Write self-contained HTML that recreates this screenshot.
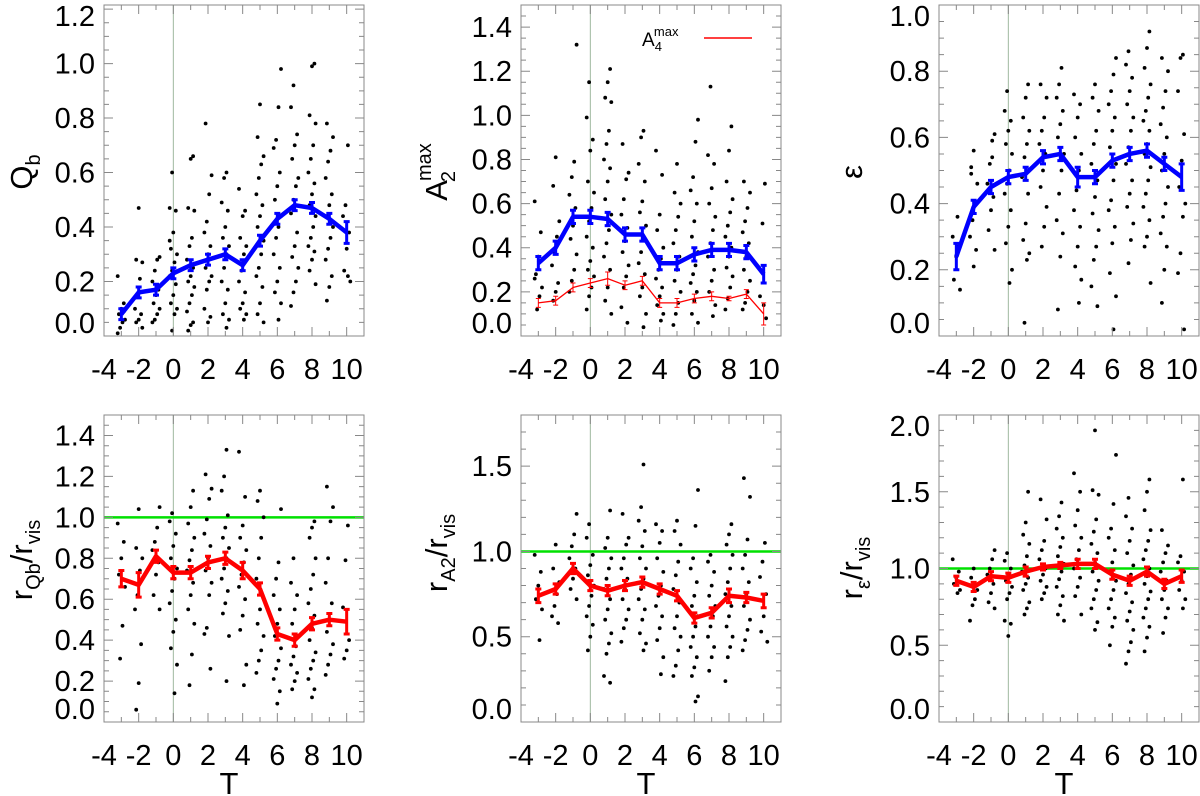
<!DOCTYPE html>
<html><head><meta charset="utf-8"><style>
html,body{margin:0;padding:0;background:#fff;width:1200px;height:796px;overflow:hidden}
svg text{font-family:"Liberation Sans",sans-serif;fill:#000}
</style></head><body>
<svg id="chart" width="1200" height="796" viewBox="0 0 1200 796" xmlns="http://www.w3.org/2000/svg"></svg>
<script>
const Tcats=[-3,-2,-1,0,1,2,3,4,5,6,7,8,9,10];
const xTickLabels=[-4,-2,0,2,4,6,8,10];
// Panel 1: Qb
const qbScatter=[[0.22,0.12,0.10,0.08,0.06,0.05,0.03,0.01,0.09],[0.47,0.28,0.27,0.21,0.15,0.10,0.08,0.06,0.05,0.03,0.16],[0.29,0.28,0.24,0.20,0.17,0.15,0.12,0.10,0.08,0.06,0.05],[0.60,0.47,0.46,0.38,0.32,0.30,0.27,0.24,0.22,0.19,0.15,0.12,0.10,0.08,0.02,0.35],[0.66,0.65,0.47,0.46,0.36,0.33,0.28,0.25,0.22,0.20,0.18,0.15,0.12,0.09,0.05,0.04,0.02],[0.78,0.59,0.52,0.42,0.38,0.33,0.30,0.25,0.22,0.20,0.17,0.10,0.07,0.05],[0.60,0.58,0.49,0.46,0.40,0.36,0.33,0.30,0.25,0.20,0.17,0.12,0.08,0.06,0.03],[0.54,0.46,0.44,0.36,0.33,0.30,0.24,0.20,0.16,0.12,0.10,0.08,0.06],[0.85,0.73,0.66,0.63,0.58,0.52,0.48,0.44,0.40,0.35,0.30,0.25,0.22,0.18,0.12,0.08,0.05],[0.98,0.84,0.72,0.69,0.60,0.55,0.50,0.44,0.40,0.36,0.30,0.25,0.20,0.16,0.12,0.06],[0.92,0.84,0.74,0.70,0.65,0.58,0.55,0.50,0.45,0.38,0.33,0.29,0.25,0.20,0.16,0.11],[1.00,0.99,0.81,0.78,0.70,0.65,0.60,0.56,0.52,0.48,0.44,0.40,0.36,0.33,0.31,0.28,0.24,0.19],[0.78,0.73,0.68,0.64,0.58,0.52,0.48,0.44,0.40,0.36,0.32,0.28,0.22,0.18,0.13],[0.70,0.48,0.44,0.38,0.32,0.24,0.20,0.22]];
const qbMean=[0.08,0.16,0.17,0.23,0.26,0.28,0.30,0.26,0.35,0.43,0.48,0.47,0.43,0.38];
const qbErr=[0.02,0.02,0.02,0.02,0.02,0.02,0.02,0.02,0.02,0.02,0.02,0.02,0.02,0.04];
// Panel 2: A2max and A4max
const a2Scatter=[[0.61,0.47,0.36,0.28,0.22,0.18,0.12,0.26],[0.81,0.68,0.52,0.45,0.38,0.32,0.24,0.20,0.16],[1.32,0.79,0.72,0.64,0.58,0.50,0.44,0.37,0.30,0.25,0.20],[1.15,0.99,0.89,0.84,0.70,0.65,0.58,0.52,0.45,0.40,0.34,0.30,0.27,0.22,0.18,0.12],[1.21,1.15,1.08,1.06,0.93,0.87,0.80,0.76,0.70,0.62,0.55,0.48,0.42,0.36,0.30,0.22,0.16,0.10],[0.87,0.74,0.71,0.62,0.55,0.49,0.43,0.38,0.32,0.27,0.22,0.13,0.06],[0.93,0.90,0.78,0.70,0.61,0.56,0.50,0.44,0.38,0.33,0.28,0.22,0.18,0.10,0.04],[0.84,0.73,0.55,0.48,0.40,0.35,0.30,0.26,0.22,0.18,0.14,0.10,0.07],[0.78,0.65,0.60,0.54,0.48,0.42,0.36,0.30,0.25,0.20,0.15,0.10,0.05],[0.98,0.88,0.72,0.66,0.60,0.52,0.45,0.38,0.32,0.28,0.24,0.20,0.16,0.10,0.06],[1.13,0.82,0.78,0.67,0.60,0.54,0.48,0.42,0.36,0.30,0.25,0.20,0.14,0.09],[0.95,0.84,0.70,0.62,0.56,0.50,0.45,0.40,0.36,0.31,0.27,0.22,0.17,0.12],[0.70,0.65,0.58,0.52,0.47,0.42,0.36,0.30,0.25,0.20,0.15,0.12],[0.69,0.51,0.18,0.08,0.14]];
const a2Mean=[0.33,0.40,0.54,0.54,0.53,0.46,0.46,0.33,0.33,0.37,0.39,0.39,0.38,0.28];
const a2Err=[0.03,0.03,0.03,0.03,0.03,0.03,0.03,0.03,0.03,0.03,0.03,0.03,0.03,0.04];
const a4Mean=[0.15,0.16,0.22,0.24,0.26,0.23,0.25,0.15,0.15,0.17,0.18,0.17,0.19,0.10];
const a4Err=[0.02,0.02,0.02,0.02,0.03,0.02,0.02,0.02,0.02,0.02,0.02,0.01,0.02,0.05];
// Panel 3: ellipticity
const epsScatter=[[0.30,0.27,0.24,0.17,0.14,0.36],[0.56,0.49,0.46,0.40,0.35,0.30,0.26,0.21,0.51],[0.61,0.54,0.52,0.46,0.42,0.38,0.32,0.26,0.59],[0.74,0.68,0.65,0.62,0.58,0.55,0.50,0.46,0.43,0.38,0.33,0.28,0.20,0.16],[0.76,0.72,0.66,0.62,0.58,0.54,0.48,0.43,0.34,0.29,0.25,0.23,0.04],[0.76,0.72,0.66,0.62,0.58,0.55,0.50,0.45,0.39,0.33,0.27],[0.81,0.76,0.72,0.68,0.64,0.60,0.55,0.50,0.43,0.35,0.31,0.24,0.08],[0.73,0.70,0.66,0.60,0.55,0.50,0.44,0.38,0.33,0.27,0.21,0.17,0.10],[0.76,0.72,0.68,0.62,0.58,0.52,0.47,0.42,0.37,0.32,0.27,0.23,0.15,0.09],[0.84,0.79,0.74,0.70,0.66,0.62,0.57,0.52,0.47,0.41,0.38,0.33,0.28,0.19,0.12,0.02],[0.86,0.82,0.78,0.74,0.70,0.66,0.62,0.57,0.52,0.47,0.43,0.39,0.34,0.29,0.22],[0.92,0.87,0.81,0.76,0.72,0.68,0.65,0.62,0.58,0.55,0.51,0.47,0.43,0.39,0.35,0.30,0.27,0.16],[0.84,0.80,0.74,0.69,0.64,0.60,0.55,0.50,0.45,0.40,0.36,0.31,0.27,0.20,0.10],[0.85,0.84,0.74,0.61,0.53,0.45,0.40,0.36,0.25,0.19,0.02]];
const epsMean=[0.24,0.39,0.45,0.48,0.49,0.54,0.55,0.48,0.48,0.53,0.55,0.56,0.52,0.48];
const epsErr=[0.04,0.02,0.02,0.02,0.02,0.02,0.02,0.03,0.02,0.02,0.02,0.02,0.02,0.04];
// Panel 4: rQb/rvis
const rqbScatter=[[0.97,0.88,0.80,0.72,0.66,0.47,0.31],[1.04,0.85,0.80,0.74,0.62,0.55,0.38,0.19,0.06],[1.05,0.95,0.88,0.84,0.78,0.72,0.62,0.55],[1.02,0.98,0.92,0.86,0.80,0.75,0.70,0.64,0.58,0.50,0.44,0.36,0.28,0.14],[1.13,1.05,0.97,0.90,0.84,0.79,0.74,0.68,0.62,0.55,0.48,0.33,0.18],[1.21,1.14,1.09,0.99,0.92,0.86,0.80,0.74,0.68,0.62,0.46,0.43,0.26],[1.33,1.20,1.13,1.01,0.95,0.90,0.85,0.80,0.75,0.70,0.64,0.58,0.53,0.42,0.20],[1.32,1.10,0.96,0.90,0.84,0.78,0.72,0.66,0.60,0.52,0.45,0.28,0.18],[1.13,1.08,1.00,0.90,0.80,0.70,0.62,0.55,0.48,0.42,0.35,0.30,0.24],[1.04,0.78,0.70,0.62,0.55,0.48,0.42,0.36,0.30,0.26,0.21,0.15,0.09],[0.80,0.68,0.62,0.55,0.48,0.42,0.37,0.32,0.28,0.24,0.20,0.16],[0.98,0.95,0.90,0.80,0.72,0.65,0.58,0.52,0.46,0.40,0.34,0.30,0.26,0.21,0.16,0.12],[1.15,1.05,0.98,0.80,0.68,0.58,0.50,0.44,0.38,0.33,0.28,0.23],[0.96,0.79,0.56,0.40,0.35,0.31]];
const rqbMean=[0.70,0.67,0.81,0.73,0.73,0.78,0.80,0.74,0.65,0.43,0.40,0.48,0.50,0.49];
const rqbErr=[0.04,0.06,0.03,0.03,0.03,0.03,0.03,0.04,0.03,0.03,0.03,0.03,0.03,0.06];
// Panel 5: rA2/rvis
const ra2Scatter=[[0.98,0.88,0.80,0.72,0.66,0.48],[1.04,0.90,0.82,0.75,0.68,0.62,0.58],[1.22,1.10,1.03,0.96,0.90,0.84,0.78,0.72],[1.16,1.08,0.98,0.92,0.86,0.80,0.74,0.68,0.62,0.57,0.50,0.42],[1.24,1.08,1.02,0.96,0.90,0.84,0.78,0.72,0.66,0.60,0.52,0.46,0.40,0.27,0.23],[1.22,1.08,1.04,0.96,0.90,0.84,0.78,0.72,0.66,0.60,0.55,0.47],[1.51,1.26,1.18,1.12,1.03,0.96,0.90,0.84,0.78,0.72,0.66,0.60,0.52,0.46,0.42],[1.16,1.12,1.05,0.96,0.88,0.80,0.74,0.68,0.62,0.55,0.48,0.38,0.28],[1.18,1.12,1.04,0.94,0.86,0.78,0.70,0.62,0.55,0.50,0.42,0.33,0.27],[1.36,1.15,0.96,0.90,0.82,0.74,0.68,0.62,0.56,0.50,0.44,0.38,0.32,0.27,0.15,0.12],[0.98,0.94,0.88,0.80,0.74,0.68,0.62,0.56,0.50,0.44,0.38,0.30],[1.16,1.10,1.04,0.98,0.90,0.82,0.75,0.68,0.62,0.56,0.50,0.44,0.38,0.24],[1.43,1.32,1.07,0.98,0.90,0.82,0.75,0.68,0.60,0.54,0.48,0.42],[1.05,0.94,0.85,0.75,0.62,0.53,0.47]];
const ra2Mean=[0.74,0.78,0.90,0.80,0.77,0.80,0.82,0.78,0.74,0.61,0.64,0.74,0.73,0.71];
const ra2Err=[0.04,0.03,0.03,0.03,0.03,0.03,0.03,0.03,0.03,0.03,0.03,0.04,0.03,0.04];
// Panel 6: reps/rvis
const reScatter=[[1.06,0.98,0.94,0.90,0.86,0.84],[1.00,0.94,0.86,0.80,0.76,0.66],[1.12,1.06,1.00,0.96,0.90,0.84,0.78,0.74],[1.10,1.05,1.00,0.96,0.92,0.88,0.84,0.80,0.66,0.64,0.56],[1.50,1.30,1.22,1.16,1.08,1.02,0.98,0.94,0.90,0.86,0.78,0.74,0.70],[1.45,1.32,1.18,1.12,1.06,1.00,0.96,0.92,0.88,0.84,0.80],[1.43,1.34,1.26,1.20,1.14,1.08,1.03,0.98,0.93,0.88,0.82,0.76,0.70,0.66],[1.62,1.50,1.38,1.28,1.20,1.12,1.06,1.00,0.94,0.88,0.82,0.70],[1.90,1.51,1.48,1.32,1.24,1.16,1.10,1.04,0.98,0.92,0.86,0.80,0.74,0.65,0.60],[1.74,1.42,1.26,1.20,1.12,1.04,0.98,0.92,0.86,0.80,0.74,0.68,0.62,0.50],[1.46,1.34,1.26,1.18,1.10,1.02,0.96,0.90,0.84,0.78,0.72,0.66,0.60,0.52,0.46,0.38],[1.58,1.50,1.38,1.25,1.18,1.12,1.06,1.00,0.95,0.90,0.85,0.80,0.74,0.68,0.62,0.55,0.46],[1.25,1.15,1.10,1.04,0.98,0.92,0.86,0.80,0.74,0.68,0.58],[1.58,1.08,1.04,0.98,0.92,0.86,0.80,0.74]];
const reMean=[0.92,0.88,0.95,0.94,0.98,1.01,1.02,1.03,1.03,0.96,0.92,0.98,0.90,0.95];
const reErr=[0.03,0.03,0.03,0.03,0.03,0.02,0.02,0.03,0.03,0.03,0.03,0.03,0.03,0.04];
const yTicks1=["0.0","0.2","0.4","0.6","0.8","1.0","1.2"];
const yTicks2=["0.0","0.2","0.4","0.6","0.8","1.0","1.2","1.4"];
const yTicks3=["0.0","0.2","0.4","0.6","0.8","1.0"];
const yTicks4=["0.0","0.2","0.4","0.6","0.8","1.0","1.2","1.4"];
const yTicks5=["0.0","0.5","1.0","1.5"];
const yTicks6=["0.0","0.5","1.0","1.5","2.0"];

const NS="http://www.w3.org/2000/svg";
const svg=document.getElementById('chart');
function mk(tag,attrs,parent){const e=document.createElementNS(NS,tag);for(const k in attrs)e.setAttribute(k,attrs[k]);(parent||svg).appendChild(e);return e;}

const panels=[
 {id:'qb',x0:104,y0:5,y1:336,ymax:1.215,ticks:yTicks1,minor:0.05,sc:qbScatter,mean:qbMean,err:qbErr,col:'#0000ff',green:false},
 {id:'a2',x0:521,y0:5,y1:336,ymax:1.5,ticks:yTicks2,minor:0.05,sc:a2Scatter,mean:a2Mean,err:a2Err,col:'#0000ff',green:false},
 {id:'eps',x0:939,y0:5,y1:336,ymax:1.0,ticks:yTicks3,minor:0.05,sc:epsScatter,mean:epsMean,err:epsErr,col:'#0000ff',green:false},
 {id:'rqb',x0:104,y0:415,y1:722,ymax:1.5,ticks:yTicks4,minor:0.05,sc:rqbScatter,mean:rqbMean,err:rqbErr,col:'#ff0000',green:true},
 {id:'ra2',x0:521,y0:415,y1:722,ymax:1.8,ticks:yTicks5,minor:0.1,sc:ra2Scatter,mean:ra2Mean,err:ra2Err,col:'#ff0000',green:true},
 {id:'re',x0:939,y0:415,y1:722,ymax:2.0,ticks:yTicks6,minor:0.1,sc:reScatter,mean:reMean,err:reErr,col:'#ff0000',green:true}
];
const W=260, XMIN=-4, XMAX=11;

panels.forEach(p=>{
 const g=mk('g',{});
 
 
 const X=v=>p.x0+(v-XMIN)/(XMAX-XMIN)*W;
 const Y=v=>p.y1-v/p.ymax*(p.y1-p.y0);
 const zl=mk('line',{x1:X(0),x2:X(0),y1:p.y0,y2:p.y1,stroke:'#9fb89f','stroke-width':1},g);
 
 
 if(p.green){const gl=mk('line',{x1:p.x0,x2:p.x0+W,y1:Y(1),y2:Y(1),stroke:'#00e000','stroke-width':2.5},g);
  
  }
 const sg=mk('g',{fill:'#000'},g);
 
 
 p.sc.forEach((col,ci)=>{col.forEach((v,i)=>{
  const jit=(((i*5+ci*3)%7)-3)*0.07;
  const c=mk('circle',{cx:X(Tcats[ci]+jit).toFixed(1),cy:Y(v).toFixed(1),r:1.9},sg);
  
  
 });});
 function drawMean(mean,err,color,lw,name){
  const pts=mean.map((v,i)=>X(Tcats[i]).toFixed(1)+','+Y(v).toFixed(1)).join(' ');
  const pl=mk('polyline',{points:pts,fill:'none',stroke:color,'stroke-width':lw,'stroke-linejoin':'round'},g);
  
  
  mean.forEach((v,i)=>{const x=X(Tcats[i]);const w=lw>2?3:2.5;
   const eb=mk('path',{d:`M${x},${Y(v-err[i])}V${Y(v+err[i])}M${x-w},${Y(v-err[i])}h${2*w}M${x-w},${Y(v+err[i])}h${2*w}`,stroke:color,'stroke-width':lw>2?3:1,fill:'none'},g);
   
   });
 }
 drawMean(p.mean,p.err,p.col,4.5,'mean-'+p.id);
 if(p.id==='a2') drawMean(a4Mean,a4Err,'#ff0000',1.3,'mean-a4');
 const fr=mk('rect',{x:p.x0,y:p.y0,width:W,height:p.y1-p.y0,fill:'none',stroke:'#888','stroke-width':1},g);
 
 
 let d='';
 for(let t=XMIN;t<=XMAX;t++){const x=X(t);const L=(t%2===0)?9:5;d+=`M${x},${p.y1}v${-L}M${x},${p.y0}v${L}`;}
 for(let v=0;v<=p.ymax+1e-9;v+=p.minor){const y=Y(v);const maj=p.ticks.some(s=>Math.abs(parseFloat(s)-v)<1e-6);const L=maj?9:5;d+=`M${p.x0},${y}h${L}M${p.x0+W},${y}h${-L}`;}
 const tk=mk('path',{d:d,stroke:'#888','stroke-width':1,fill:'none'},g);
 
 
 xTickLabels.forEach(t=>{const tx=mk('text',{x:X(t),y:p.y1+43,'font-size':29,'text-anchor':'middle'},g);tx.textContent=t;
  
  });
 p.ticks.forEach(s=>{let y=Y(parseFloat(s))+10;y=Math.max(p.y0+21,Math.min(p.y1-3,y));
  const ty=mk('text',{x:p.x0-9,y:y,'font-size':29,'text-anchor':'end'},g);ty.textContent=s;
  
  });
 if(p.y0>400){const tt=mk('text',{x:p.x0+W/2-5,y:794,'font-size':31,'text-anchor':'middle'},g);tt.textContent='T';
  
  }
});

function ytitle(cx,cy,html,name){const t=mk('text',{x:0,y:0,'font-size':31,'text-anchor':'middle',transform:`translate(${cx},${cy}) rotate(-90)`});t.innerHTML=html;
 
 }
ytitle(32,172,'Q<tspan font-size="20" dy="8">b</tspan>','y-axis-title-qb');
ytitle(447,172,'A<tspan font-size="20" dy="8" dx="-2">2</tspan><tspan font-size="20" dy="-24" dx="-10">max</tspan>','y-axis-title-a2max');
ytitle(862,172,'ε','y-axis-title-eps');
ytitle(32,560,'r<tspan font-size="20" dy="8">Qb</tspan><tspan dy="-8">/r</tspan><tspan font-size="20" dy="8">vis</tspan>','y-axis-title-rqb');
ytitle(447,553,'r<tspan font-size="20" dy="8">A2</tspan><tspan dy="-8">/r</tspan><tspan font-size="20" dy="8">vis</tspan>','y-axis-title-ra2');
ytitle(862,568,'r<tspan font-size="20" dy="8">ε</tspan><tspan dy="-8">/r</tspan><tspan font-size="20" dy="8">vis</tspan>','y-axis-title-re');
const lg=mk('g',{});


const lt=mk('text',{x:642,y:46,'font-size':19},lg);lt.innerHTML='A<tspan font-size="13" dy="5">4</tspan><tspan font-size="13" dy="-15" dx="-8">max</tspan>';
mk('line',{x1:704,x2:752,y1:38,y2:38,stroke:'#ff0000','stroke-width':1.5},lg);
</script>
</body></html>
